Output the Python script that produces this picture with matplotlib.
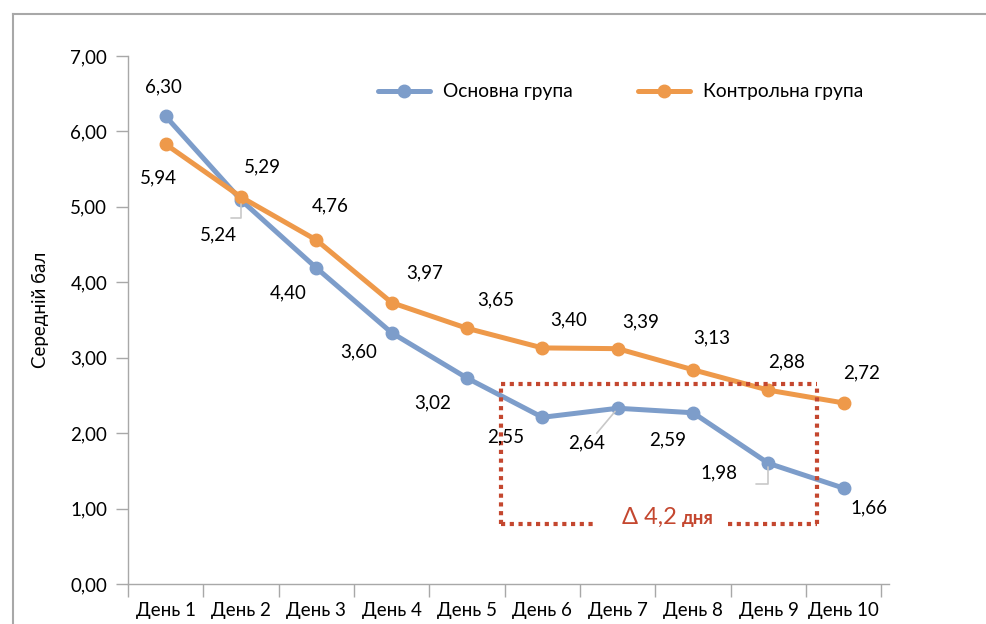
import matplotlib
matplotlib.use("Agg")
import matplotlib.pyplot as plt
from matplotlib.lines import Line2D

# ---- data ----
days = ["День 1", "День 2", "День 3", "День 4", "День 5",
        "День 6", "День 7", "День 8", "День 9", "День 10"]

main_vals = [6.20, 5.09, 4.19, 3.33, 2.73, 2.21, 2.33, 2.27, 1.60, 1.27]
main_labels = ["6,30", "5,24", "4,40", "3,60", "3,02",
               "2,55", "2,64", "2,59", "1,98", "1,66"]

ctrl_vals = [5.83, 5.13, 4.56, 3.73, 3.39, 3.13, 3.12, 2.84, 2.57, 2.40]
ctrl_labels = ["5,94", "5,29", "4,76", "3,97", "3,65",
               "3,40", "3,39", "3,13", "2,88", "2,72"]

yticks = [0, 1, 2, 3, 4, 5, 6, 7]

# ---- style ----
BLUE = "#7D9DCA"
ORANGE = "#EE994A"
RED = "#C4472F"
GRAY = "#A8A8A8"
FONT = ["Lato", "DejaVu Sans"]

plt.rcParams["font.family"] = FONT

# label offsets (pixels, x right / y up) relative to each point
main_off = [(-2, 29), (-23, -35), (-28, -25), (-33, -19), (-34, -25),
            (-37, -20), (-31, -35), (-25, -27), (-50, -10), (25, -20)]
ctrl_off = [(-7, -34), (21, 30), (14, 34), (33, 30), (29, 28),
            (26, 28), (23, 27), (19, 32), (18, 28), (18, 30)]

fig = plt.figure(figsize=(9.86, 6.24), dpi=100)
ax = fig.add_axes([128 / 986, 1 - 584 / 624, 761 / 986, 528 / 624])

x = list(range(len(days)))
ax.plot(x, main_vals, color=BLUE, lw=3.6, marker="o", ms=9,
        solid_capstyle="round", label="Основна група", zorder=3)
ax.plot(x, ctrl_vals, color=ORANGE, lw=3.6, marker="o", ms=9,
        solid_capstyle="round", label="Контрольна група", zorder=3)

for xi, v, t, (dx, dy) in zip(x, main_vals, main_labels, main_off):
    ax.annotate(t, (xi, v), xytext=(dx, dy), textcoords="offset pixels",
                ha="center", va="center", fontsize=13.5, zorder=5)
for xi, v, t, (dx, dy) in zip(x, ctrl_vals, ctrl_labels, ctrl_off):
    ax.annotate(t, (xi, v), xytext=(dx, dy), textcoords="offset pixels",
                ha="center", va="center", fontsize=13.5, zorder=5)

# leader lines for a few labels
leader = dict(arrowstyle="-", color="#C8C8C8", lw=1.2, shrinkA=0, shrinkB=3)
ax.annotate("", (1, main_vals[1]), xytext=(-10, -18), textcoords="offset pixels",
            arrowprops=dict(leader, connectionstyle="angle,angleA=0,angleB=90"))
ax.annotate("", (8, main_vals[8]), xytext=(-12, -21), textcoords="offset pixels",
            arrowprops=dict(leader, connectionstyle="angle,angleA=0,angleB=90"))
ax.annotate("", (6, main_vals[6]), xytext=(-21, -25), textcoords="offset pixels",
            arrowprops=leader)

# dotted highlight box with the delta note
box_kw = dict(color=RED, lw=3, ls=(0, (1, 1.1)), zorder=4)
ax.plot([4.45, 4.45], [0.80, 2.65], **box_kw)
ax.plot([4.45, 8.64], [2.65, 2.65], **box_kw)
ax.plot([8.64, 8.64], [0.80, 2.65], **box_kw)
ax.plot([4.45, 5.73], [0.80, 0.80], **box_kw)
ax.plot([7.46, 8.64], [0.80, 0.80], **box_kw)
ax.text(6.78, 0.80, "\u0394 4,2", color=RED, fontsize=17, ha="right",
        va="baseline", zorder=5)
ax.text(6.85, 0.80, "дня", color=RED, fontsize=13.5, fontweight="bold",
        ha="left", va="baseline", zorder=5)

# axes
ax.set_xlim(-0.5, 9.6)
ax.set_ylim(0, 7)
ax.set_yticks(yticks)
ax.set_yticklabels([f"{v:.2f}".replace(".", ",") for v in yticks])
ax.set_xticks(x)
ax.set_xticklabels(days)
ax.set_xticks([i - 0.5 for i in range(len(days) + 1)], minor=True)
ax.tick_params(axis="x", which="major", length=0, pad=13, labelsize=13.5)
ax.tick_params(axis="x", which="minor", length=9, width=1, color=GRAY,
               direction="out")
ax.tick_params(axis="y", length=9, width=1, color=GRAY, pad=6, labelsize=13.5)
for s in ["top", "right"]:
    ax.spines[s].set_visible(False)
for s in ["left", "bottom"]:
    ax.spines[s].set_color(GRAY)
    ax.spines[s].set_linewidth(1)

fig.text(40 / 986, 1 - 310 / 624, "Середній бал", rotation=90,
         ha="center", va="center", fontsize=13.5)

leg = ax.legend(ncol=2, frameon=False, loc="center left",
                bbox_to_anchor=(378 / 986, 1 - 92 / 624),
                bbox_transform=fig.transFigure, borderaxespad=0, borderpad=0,
                handlelength=2.7, handletextpad=0.7, columnspacing=3.4,
                prop=dict(size=13.8))

# outer frame (only left and top edges visible in the crop)
fx, fy = 13 / 986, 1 - 14 / 624
fig.add_artist(Line2D([fx, fx], [0, fy], color=GRAY, lw=1.5,
                      transform=fig.transFigure))
fig.add_artist(Line2D([fx, 1], [fy, fy], color=GRAY, lw=1.5,
                      transform=fig.transFigure))

fig.savefig("out.png", dpi=100, facecolor="white")
